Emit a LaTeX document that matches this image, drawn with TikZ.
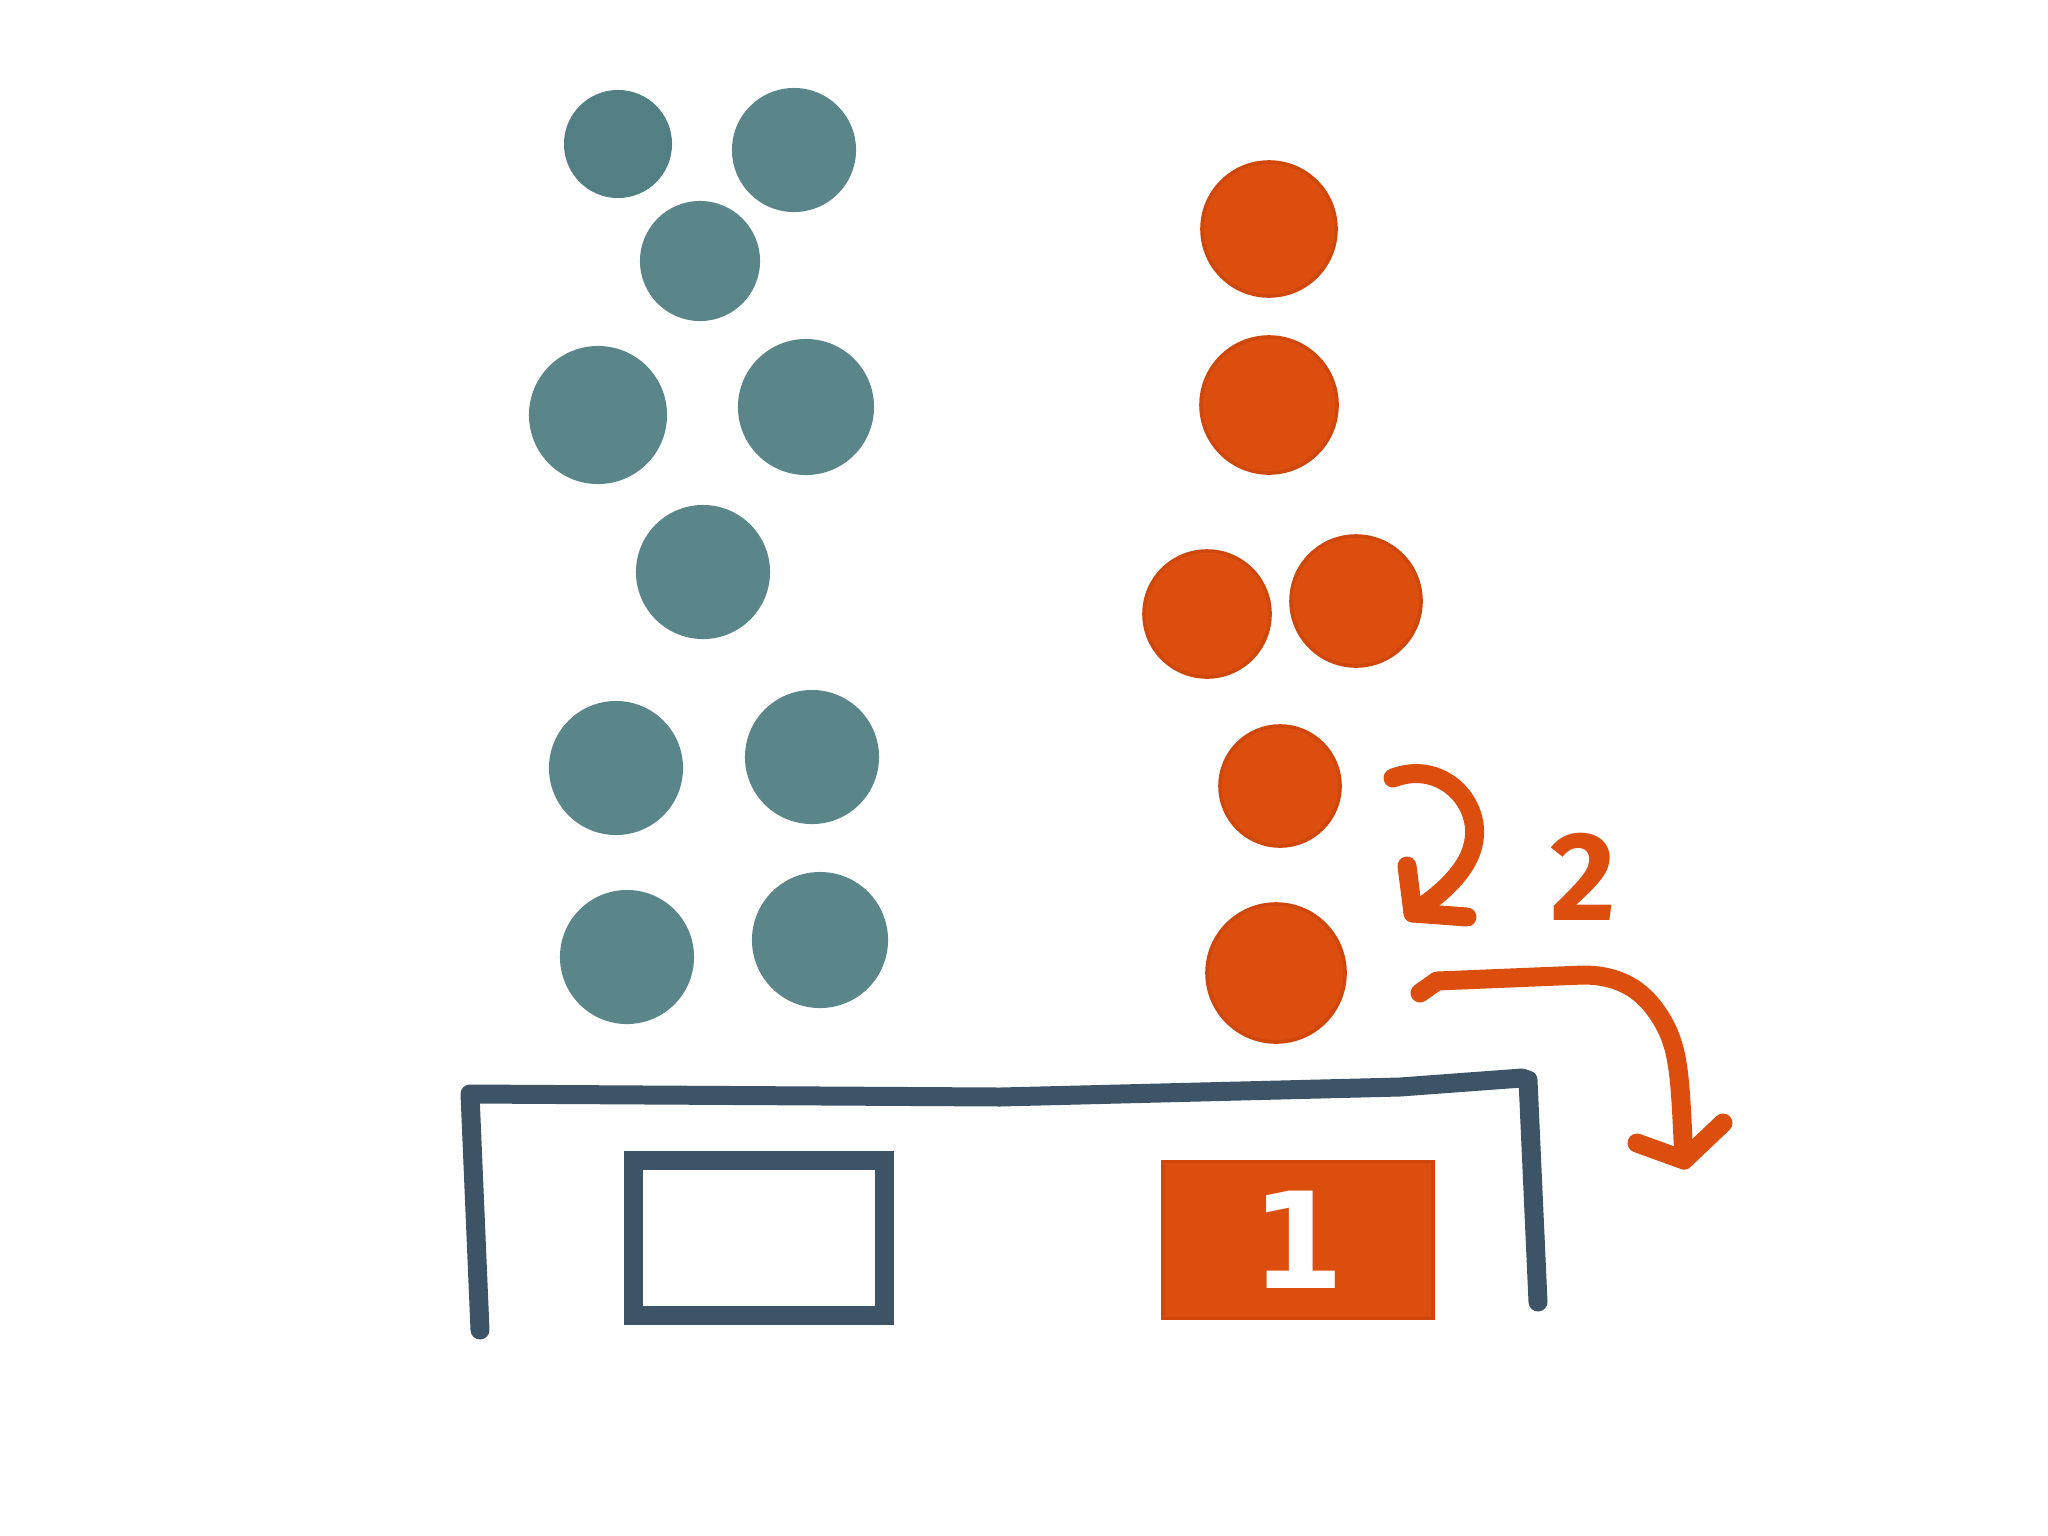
\documentclass[tikz,border=0pt]{standalone}
\usepackage{fontspec}
\setmainfont{Fira Sans}
\newfontfamily\onefont{DejaVu Sans}
\usetikzlibrary{arrows.meta}
\definecolor{tealc}{HTML}{5A8689}
\definecolor{tealdark}{HTML}{527F82}
\definecolor{orangec}{HTML}{DC4E0E}
\definecolor{orangedark}{HTML}{CF470B}
\definecolor{slatec}{HTML}{3D5366}
\begin{document}
\begin{tikzpicture}[x=0.01cm,y=-0.01cm,
  tdot/.style={circle,fill=tealc,inner sep=0pt},
  odot/.style={circle,fill=orangec,draw=orangedark,line width=1pt,inner sep=0pt},
  frameline/.style={draw=slatec,line width=5.4pt,line cap=round,line join=round},
  orangeline/.style={draw=orangec,line width=5.4pt,line cap=round,line join=round},
  numbox/.style={fill=orangec,draw=orangedark,line width=1pt,inner sep=0pt,text=white,font=\onefont\bfseries\fontsize{38}{38}\selectfont}
]
\useasboundingbox (0,0) rectangle (2048,1536);
% teal dots
\node[tdot,fill=tealdark,minimum size=1.08cm] (t1) at (618,144) {};
\node[tdot,minimum size=1.24cm] (t2) at (794,150) {};
\node[tdot,minimum size=1.20cm] (t3) at (700,261) {};
\node[tdot,minimum size=1.38cm] (t4) at (598,415) {};
\node[tdot,minimum size=1.36cm] (t5) at (806,407) {};
\node[tdot,minimum size=1.34cm] (t6) at (703,572) {};
\node[tdot,minimum size=1.34cm] (t7) at (616,768) {};
\node[tdot,minimum size=1.34cm] (t8) at (812,757) {};
\node[tdot,minimum size=1.34cm] (t9) at (627,957) {};
\node[tdot,minimum size=1.36cm] (t10) at (820,940) {};
% orange dots
\node[odot,minimum size=1.34cm] (o1) at (1269,229) {};
\node[odot,minimum size=1.36cm] (o2) at (1269,405) {};
\node[odot,minimum size=1.26cm] (o3) at (1207,614) {};
\node[odot,minimum size=1.30cm] (o4) at (1356,601) {};
\node[odot,minimum size=1.20cm] (o5) at (1280,786) {};
\node[odot,minimum size=1.38cm] (o6) at (1276,973) {};
% frame
\coordinate (fbl) at (480,1330);
\coordinate (ftl) at (470,1094);
\coordinate (ftr) at (1522,1078);
\coordinate (fbr) at (1538,1302);
\draw[frameline] (fbl) -- (ftl) -- (1000,1097) -- (1400,1087) -- (ftr) -- (1528,1080) -- (fbr);
% empty box
\node[draw=slatec,line width=5.4pt,minimum width=2.50cm,minimum height=1.55cm,inner sep=0pt] (empty) at (759,1238) {};
% number box
\node[numbox,minimum width=2.70cm,minimum height=1.57cm] (one) at (1298,1240) {1};
% label 2
\node[text=orangec,font=\bfseries\fontsize{36}{36}\selectfont] (two) at (1583,877) {2};
% swap arrow
\coordinate (a1s) at (1393,778);
\coordinate (a1e) at (1413,913);
\draw[orangeline] (a1s) .. controls (1440,760) and (1480,800) .. (1474,840) .. controls (1470,870) and (1440,895) .. (a1e);
\draw[orangeline] (1407,866) -- (a1e) -- (1467,917);
% move arrow
\coordinate (a2s) at (1420,993);
\coordinate (a2e) at (1684,1160);
\draw[orangeline] (a2s) -- (1437,981) -- (1583,975) .. controls (1630,975) and (1650,1000) .. (1662,1020) .. controls (1680,1050) and (1680,1080) .. (a2e);
\draw[orangeline] (1637,1143) -- (a2e) -- (1723,1123);
\end{tikzpicture}
\end{document}
